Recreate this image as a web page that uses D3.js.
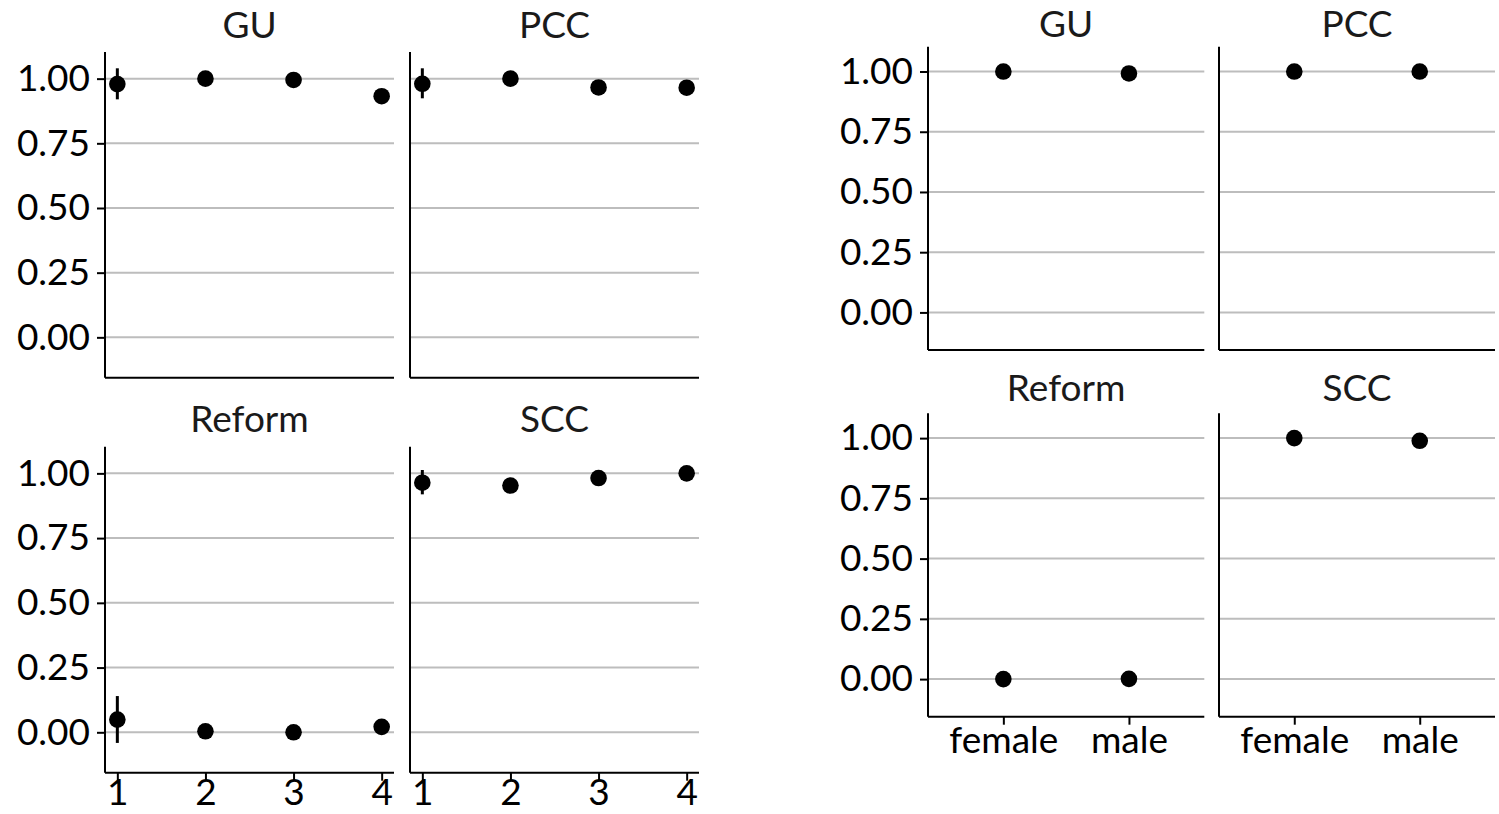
<!DOCTYPE html>
<html>
<head>
<meta charset="utf-8">
<script src="https://cdn.jsdelivr.net/npm/d3@7"></script>
<style>
    body { margin: 0; background: #fff; }
    svg text { font-family: Lato, "Open Sans", sans-serif; }
    .axis path, .axis line { stroke: #000; stroke-width: 2; }
    .axis text { font-size: 37px; fill: #000; }
    .strip { font-size: 37px; fill: #1a1a1a; }
</style>
</head>
<body>
<div id="chart"></div>
<script>
// values
const parties = ["GU", "PCC", "Reform", "SCC"];
const years = [1, 2, 3, 4];
const genders = ["female", "male"];
const yTicks = [0, 0.25, 0.5, 0.75, 1];

const yearGU = [0.979, 1.0, 0.995, 0.932];
const yearPCC = [0.980, 1.0, 0.966, 0.965];
const yearReform = [0.049, 0.004, 0.0, 0.021];
const yearSCC = [0.964, 0.953, 0.982, 1.0];
// error bar ends (only year 1 sticks out of the dot)
const yearLow = [[0.920, 0.98, 0.98, 0.915], [0.924, 0.98, 0.94, 0.94], [-0.041, -0.01, -0.01, 0.0], [0.919, 0.93, 0.96, 0.98]];
const yearHigh = [[1.040, 1.02, 1.01, 0.95], [1.040, 1.02, 0.99, 0.99], [0.140, 0.02, 0.01, 0.04], [1.013, 0.97, 1.0, 1.02]];

const genderGU = [1.0, 0.992];
const genderPCC = [1.0, 1.0];
const genderReform = [0.0, 0.001];
const genderSCC = [1.0, 0.989];

const yearValues = [yearGU, yearPCC, yearReform, yearSCC];
const genderValues = [genderGU, genderPCC, genderReform, genderSCC];

const svg = d3.select('#chart').append('svg')
    .attr('width', 1499)
    .attr('height', 814);

const yDomain = [-0.156, 1.103];

function drawGroup(cfg) {
    parties.forEach((party, p) => {
        const col = p % 2, row = Math.floor(p / 2);
        const x0 = cfg.cols[col][0], x1 = cfg.cols[col][1];
        const y0 = cfg.rows[row][0], y1 = cfg.rows[row][1];

        const yScale = d3.scaleLinear().domain(yDomain).range([y1, y0]);
        const xScale = cfg.makeX().range([x0, x1]);

        const g = svg.append('g');

        // grid
        g.selectAll('line.grid')
            .data(yTicks)
            .join('line')
            .attr('class', 'grid')
            .attr('x1', x0).attr('x2', x1)
            .attr('y1', d => yScale(d)).attr('y2', d => yScale(d))
            .attr('stroke', '#bdbdbd')
            .attr('stroke-width', 2);

        // strip title
        g.append('text')
            .attr('class', 'strip')
            .attr('x', (x0 + x1) / 2)
            .attr('y', y0 - cfg.titleGap[row])
            .attr('text-anchor', 'middle')
            .text(party);

        // y axis
        const yAxis = d3.axisLeft(yScale).tickValues(yTicks)
            .tickFormat(d3.format('.2f'))
            .tickSizeOuter(0).tickSize(col === 0 ? 8 : 0).tickPadding(7);
        const yg = g.append('g').attr('class', 'axis')
            .attr('transform', `translate(${x0},0)`)
            .call(yAxis);
        yg.select('.domain').attr('d', `M0,${y0}V${y1}`);
        if (col !== 0) yg.selectAll('.tick').remove();

        // x axis
        const xAxis = d3.axisBottom(xScale)
            .tickSizeOuter(0).tickSize(8).tickPadding(cfg.xPad);
        if (cfg.xTicks) xAxis.tickValues(cfg.xTicks).tickFormat(d3.format('d'));
        const xg = g.append('g').attr('class', 'axis')
            .attr('transform', `translate(0,${y1})`)
            .call(xAxis);
        xg.select('.domain').attr('d', `M${x0},0H${x1}`);
        if (row === 0) xg.selectAll('.tick').remove();

        // error bars
        if (cfg.low) {
            g.selectAll('line.err')
                .data(cfg.cats)
                .join('line')
                .attr('class', 'err')
                .attr('x1', d => xScale(d)).attr('x2', d => xScale(d))
                .attr('y1', (d, i) => yScale(cfg.low[p][i]))
                .attr('y2', (d, i) => yScale(cfg.high[p][i]))
                .attr('stroke', '#000')
                .attr('stroke-width', 3);
        }

        // points
        g.selectAll('circle')
            .data(cfg.values[p])
            .join('circle')
            .attr('cx', (d, i) => xScale(cfg.cats[i]))
            .attr('cy', d => yScale(d))
            .attr('r', 8.3)
            .attr('fill', '#000');
    });
}

drawGroup({
    cols: [[105, 394], [410, 699]],
    rows: [[52, 377.7], [446.7, 772.7]],
    titleGap: [14.5, 14.5],
    makeX: () => d3.scaleLinear().domain([0.86, 4.14]),
    xTicks: years,
    xPad: -2,
    cats: years,
    values: yearValues,
    low: yearLow,
    high: yearHigh
});

drawGroup({
    cols: [[928, 1204.3], [1219, 1495]],
    rows: [[46.7, 350], [413.3, 716.7]],
    titleGap: [9.5, 12],
    makeX: () => d3.scalePoint().domain(genders).padding(0.6),
    xPad: 2,
    cats: genders,
    values: genderValues
});
</script>
</body>
</html>
